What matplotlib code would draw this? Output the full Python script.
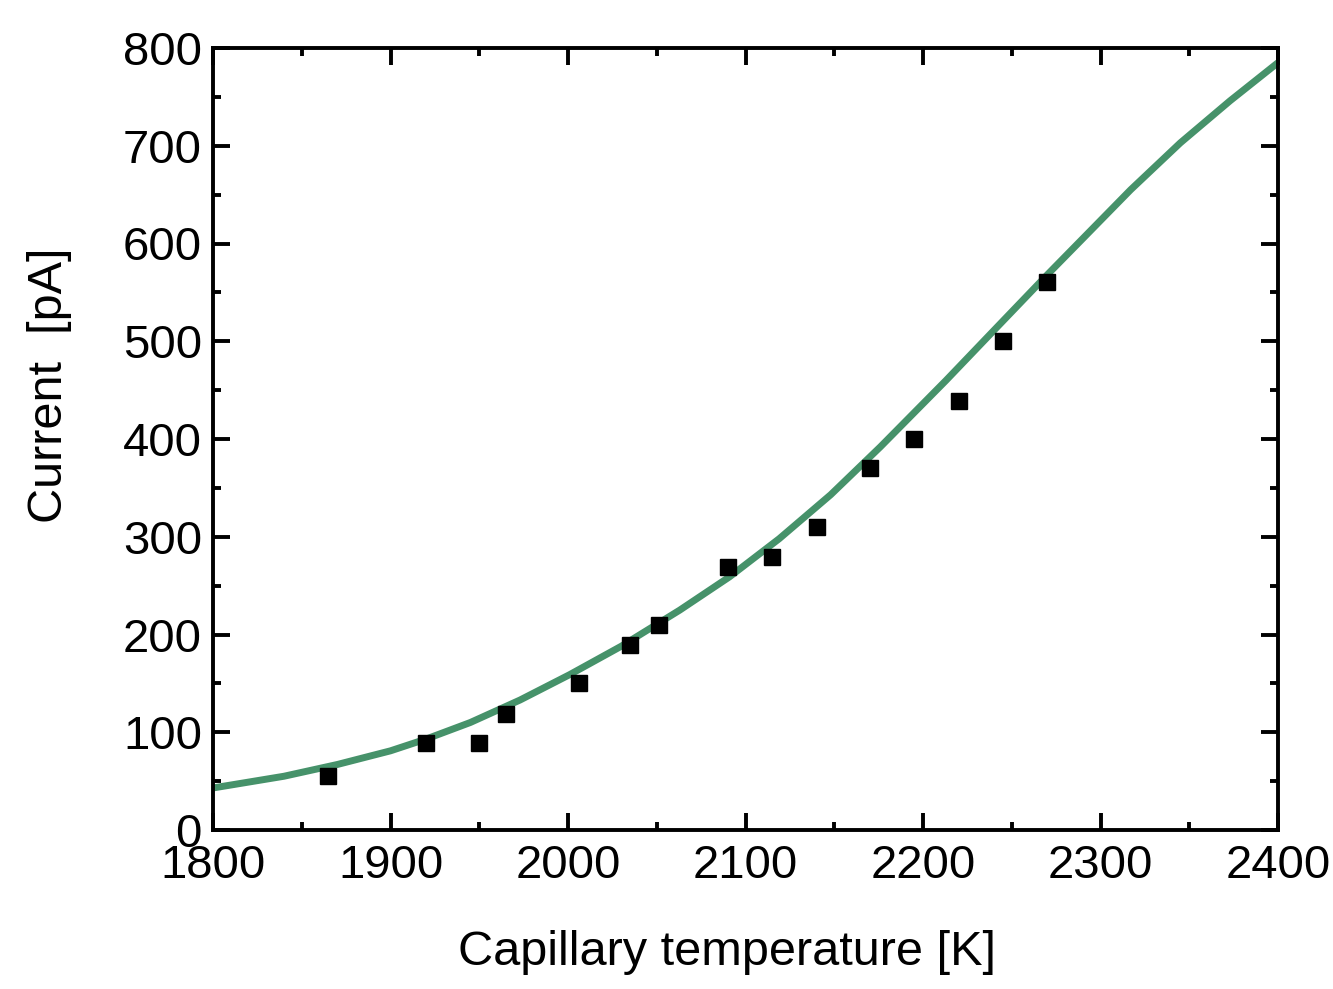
import numpy as np
import matplotlib.pyplot as plt
from matplotlib.ticker import MultipleLocator

plt.rcParams['font.family'] = ['Liberation Sans', 'DejaVu Sans']

# measured points
temp_pts = [1865, 1920, 1950, 1965, 2006, 2035, 2051, 2090, 2115, 2140, 2170, 2195, 2220, 2245, 2270]
current_pts = [55, 89, 89, 119, 150, 189, 210, 269, 279, 310, 370, 400, 439, 500, 561]

# fitted curve
temp_fit = [1800, 1840, 1870, 1900, 1920, 1945, 1973, 2001, 2030, 2063, 2091, 2119,
            2148, 2176, 2213, 2242, 2270, 2290, 2317, 2345, 2373, 2400]
current_fit = [43, 55, 67, 81, 93, 110, 133, 159, 188, 225, 259, 298,
               343, 392, 460, 515, 568, 605, 655, 703, 746, 785]

fig = plt.figure(figsize=(13.33, 9.89), dpi=100)
ax = fig.add_axes([213 / 1333, 1 - 830 / 989, (1278 - 213) / 1333, (830 - 48) / 989])

ax.plot(temp_fit, current_fit, color='#46926a', lw=5, zorder=2, solid_capstyle='butt')
ax.plot(temp_pts, current_pts, 's', color='black', ms=11, zorder=3)

ax.set_xlim(1800, 2400)
ax.set_ylim(0, 800)
ax.xaxis.set_major_locator(MultipleLocator(100))
ax.xaxis.set_minor_locator(MultipleLocator(50))
ax.yaxis.set_major_locator(MultipleLocator(100))
ax.yaxis.set_minor_locator(MultipleLocator(50))

ax.tick_params(which='both', direction='in', top=True, right=True, width=2.8, labelsize=34)
ax.tick_params(which='major', length=12)
ax.tick_params(which='minor', length=6)
ax.tick_params(axis='x', pad=10)
ax.tick_params(axis='y', pad=8)
for s in ax.spines.values():
    s.set_linewidth(2.8)

ax.set_xlabel('Capillary temperature [K]', fontsize=35)
ax.set_ylabel('Current  [pA]', fontsize=35)
ax.xaxis.set_label_coords(0.483, -0.128)
ax.yaxis.set_label_coords(-0.132, 0.569)

plt.savefig('out.png', dpi=100)
